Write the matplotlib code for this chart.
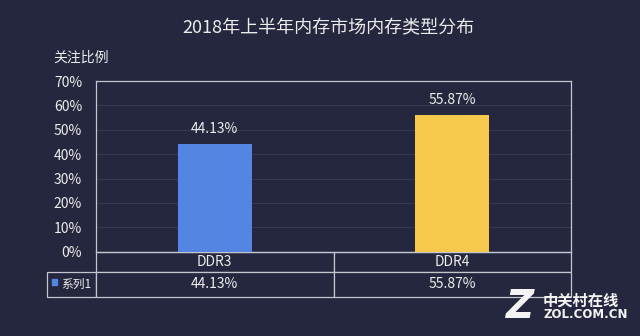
import matplotlib
matplotlib.use("Agg")
import matplotlib.pyplot as plt
from matplotlib.patches import Rectangle

plt.rcParams['font.family'] = ['Noto Sans CJK SC', 'DejaVu Sans']

# datos
categorias = ["DDR3", "DDR4"]
valores = [44.13, 55.87]
serie = "系列1"
colores_barras = ["#5585e3", "#f6c84b"]
ticks_y = [0, 10, 20, 30, 40, 50, 60, 70]
titulo = "2018年上半年内存市场内存类型分布"
eje_y = "关注比例"

fondo = "#25273e"
linea = "#c4c5cf"
texto = "#ececec"
rejilla = "#373951"

fig = plt.figure(figsize=(6.4, 3.36), dpi=100, facecolor=fondo)
ax = fig.add_axes([96 / 640, 1 - 251.7 / 336, 475 / 640, 170.7 / 336])
ax.set_facecolor(fondo)

x = list(range(len(categorias)))
barras = ax.bar(x, valores, width=0.31, color=colores_barras, zorder=3)
ax.bar_label(barras, labels=[f"{v:.2f}%" for v in valores], padding=6,
             color=texto, fontsize=10)

ax.set_xlim(-0.5, len(categorias) - 0.5)
ax.set_ylim(0, 70)
ax.set_yticks(ticks_y)
ax.set_yticklabels([f"{t}%" for t in ticks_y])
ax.set_xticks([])
ax.tick_params(axis='y', length=0, pad=10, labelsize=10, labelcolor=texto)
for t in ticks_y[1:-1]:
    ax.axhline(t, color=rejilla, linewidth=0.8, zorder=1)

for lado in ["left", "top", "right", "bottom"]:
    ax.spines[lado].set_color(linea)
    ax.spines[lado].set_linewidth(0.9)

# tabla de datos bajo el grafico; la primera columna hace de etiqueta
tabla = ax.table(
    cellText=[[""] + [f"{v:.2f}%" for v in valores]],
    colLabels=[""] + categorias,
    cellLoc='center',
    bbox=[-49.3 / 475, -45.0 / 170.7, 524.3 / 475, 45.0 / 170.7],
)
tabla.auto_set_font_size(False)
tabla.set_fontsize(10)
for (fila, col), celda in tabla.get_celld().items():
    celda.set_facecolor(fondo)
    celda.set_edgecolor(linea)
    celda.set_linewidth(0.9)
    celda.get_text().set_color(texto)
    celda.set_height(20.6 if fila == 0 else 24.4)
    celda.set_width(49.3 if col == 0 else 237.5)
tabla[0, 0].visible_edges = ""
tabla[0, 0].set_facecolor("none")

# leyenda dentro de la tabla
ax.add_patch(Rectangle((-44.3 / 475, -33.6 / 170.7), 5.6 / 475, 6 / 170.7,
                       transform=ax.transAxes, color=colores_barras[0],
                       clip_on=False, zorder=5))
ax.text(-35 / 475, -32.5 / 170.7, serie, transform=ax.transAxes,
        ha='left', va='center', fontsize=8.5, color=texto, zorder=5)

fig.text(328 / 640, 1 - 28 / 336, titulo, ha='center', va='center',
         fontsize=13, color=texto)
fig.text(53 / 640, 1 - 58 / 336, eje_y, ha='left', va='center',
         fontsize=10, color=texto)

# marca de agua
fig.text(520 / 640, 1 - 307 / 336, "Z", ha='center', va='center',
         fontsize=28, fontweight='bold', style='italic', color="#f4f4f4",
         family=['DejaVu Sans'])
fig.text(543 / 640, 1 - 301 / 336, "中关村在线", ha='left', va='center',
         fontsize=11, fontweight='bold', color="#f4f4f4")
fig.text(543 / 640, 1 - 315 / 336, "ZOL.COM.CN", ha='left', va='center',
         fontsize=8.5, fontweight='bold', color="#f4f4f4",
         family=['DejaVu Sans'])

plt.savefig("out.png", dpi=100, facecolor=fondo)
plt.close()
